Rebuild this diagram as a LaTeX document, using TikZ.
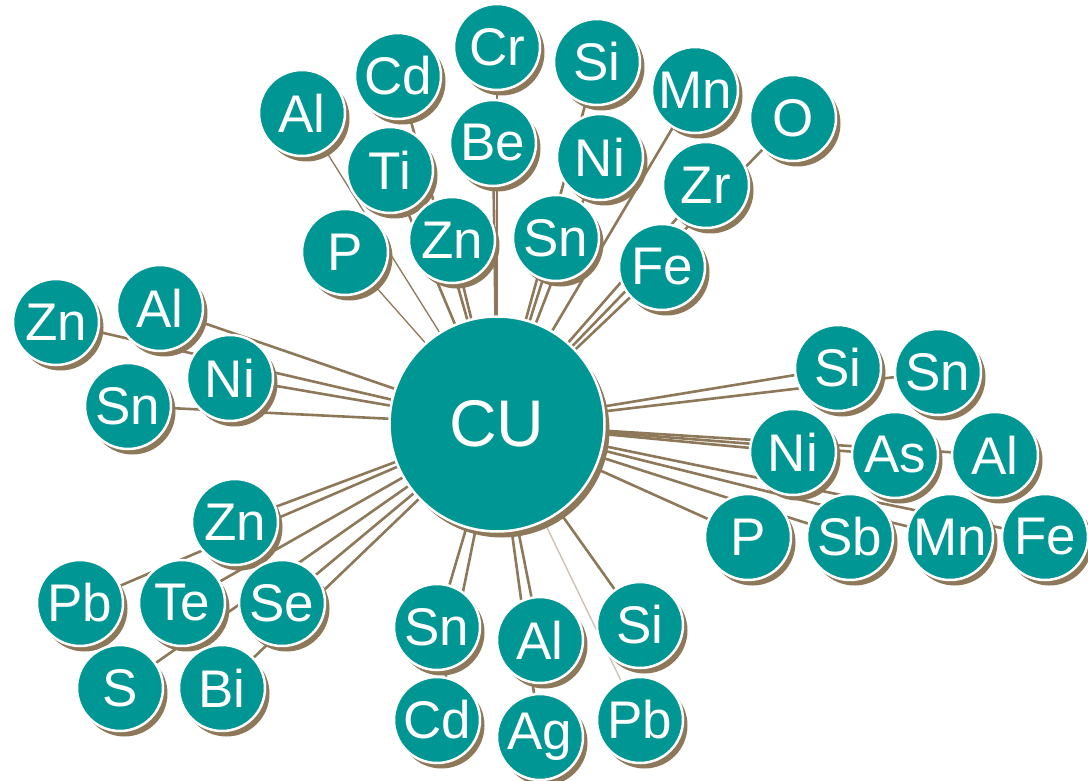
\documentclass[tikz,border=0pt]{standalone}
\usepackage{fontspec}
\setmainfont{Liberation Sans}
\usetikzlibrary{shadows}
\definecolor{tealc}{RGB}{0,150,148}
\definecolor{brownc}{RGB}{142,120,90}
\pgfdeclarelayer{background}
\pgfsetlayers{background,main}
\begin{document}
\begin{tikzpicture}[x=1pt,y=-1pt,
 el/.style={circle, fill=tealc, draw=white, line width=2.5pt, minimum size=86pt, inner sep=0pt, text=white,
   font=\fontsize{53}{62}\selectfont,
   drop shadow={shadow xshift=4.5pt, shadow yshift=-5.5pt, fill=brownc, opacity=1}},
 hub/.style={el, minimum size=215pt, font=\fontsize{66}{78}\selectfont,
   drop shadow={shadow xshift=5pt, shadow yshift=-6pt, fill=brownc, opacity=1}},
 link/.style={draw=brownc, line width=2.6pt},
 thinlink/.style={draw=brownc, line width=1.3pt},
 faintlink/.style={draw=brownc!45, line width=1.4pt}]
\useasboundingbox (0,0) rectangle (1088,781);

\node[hub] (cu) at (497,424) {CU};

% top group
\node[el] (tAl) at (302,113) {Al};
\node[el] (tCd) at (398,76) {Cd};
\node[el] (tCr) at (497,47) {Cr};
\node[el] (tSi) at (597,62) {Si};
\node[el] (tMn) at (695,90) {Mn};
\node[el] (tO)  at (793,118) {O};
\node[el] (tTi) at (390,170) {Ti};
\node[el] (tBe) at (493,143) {Be};
\node[el] (tNi) at (600,157) {Ni};
\node[el] (tZr) at (706,185) {Zr};
\node[el] (tP)  at (345,252) {P};
\node[el] (tZn) at (452,240) {Zn};
\node[el] (tSn) at (556,238) {Sn};
\node[el] (tFe) at (662,267) {Fe};

% left group
\node[el] (lZn) at (56,322) {Zn};
\node[el] (lAl) at (160,308) {Al};
\node[el] (lNi) at (230,378) {Ni};
\node[el] (lSn) at (128,406) {Sn};

% right group
\node[el] (rSi) at (838,368) {Si};
\node[el] (rSn) at (938,372) {Sn};
\node[el] (rNi) at (793,452) {Ni};
\node[el] (rAs) at (895,455) {As};
\node[el] (rAl) at (995,455) {Al};
\node[el] (rP)  at (748,537) {P};
\node[el] (rSb) at (850,537) {Sb};
\node[el] (rMn) at (950,537) {Mn};
\node[el] (rFe) at (1045,537) {Fe};

% lower-left group
\node[el] (dZn) at (235,522) {Zn};
\node[el] (dPb) at (80,603) {Pb};
\node[el] (dTe) at (182,603) {Te};
\node[el] (dSe) at (282,603) {Se};
\node[el] (dS)  at (120,688) {S};
\node[el] (dBi) at (222,688) {Bi};

% bottom group
\node[el] (bSn) at (437,627) {Sn};
\node[el] (bAl) at (540,640) {Al};
\node[el] (bSi) at (640,625) {Si};
\node[el] (bCd) at (437,720) {Cd};
\node[el] (bAg) at (540,737) {Ag};
\node[el] (bPb) at (640,720) {Pb};

\begin{pgfonlayer}{background}
\foreach \n in {tCd,tCr,tSi,tMn,tO,tTi,tBe,tNi,tZr,tZn,tSn,tFe,
  lZn,lAl,lNi,lSn,
  rSi,rSn,rNi,rAs,rAl,rP,rSb,rMn,rFe,
  dZn,dPb,dTe,dSe,dS,dBi,
  bSn,bAl,bSi,bCd,bAg}
  \draw[link] (cu.center) -- (\n.center);
\draw[thinlink] (cu.center) -- (tAl.center);
\draw[thinlink] (cu.center) -- (tP.center);
\draw[faintlink] (cu.center) -- (bPb.center);
\end{pgfonlayer}
\end{tikzpicture}
\end{document}
